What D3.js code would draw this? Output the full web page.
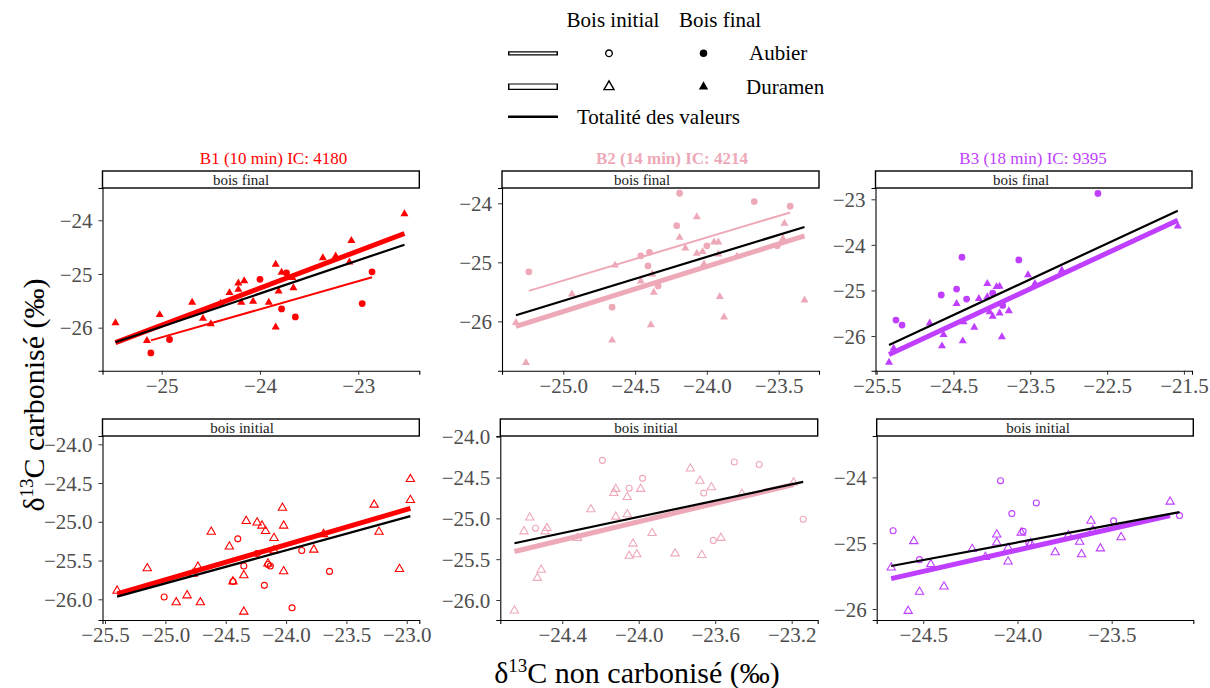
<!DOCTYPE html>
<html>
<head>
<meta charset="utf-8">
<script src="https://cdn.jsdelivr.net/npm/d3@7"></script>
<style>
  body { margin: 0; background: #fff; }
  svg { font-family: "Liberation Serif", "Times New Roman", serif; }
</style>
</head>
<body>
<svg width="1210" height="688"></svg>
<script>
// values: [delta13C non carbonise, delta13C carbonise]
const b1FinalAubier = [[-25.11,-26.47],[-24.92,-26.22],[-24.00,-25.10],[-23.78,-25.65],[-23.73,-24.98],[-23.64,-25.80],[-22.96,-25.55],[-22.86,-24.96]];
const b1FinalDuramen = [[-25.47,-25.91],[-25.15,-26.24],[-25.02,-25.76],[-24.69,-25.53],[-24.58,-25.83],[-24.50,-25.93],[-24.40,-25.55],[-24.31,-25.35],[-24.22,-25.17],[-24.22,-25.29],[-24.19,-25.53],[-24.16,-25.13],[-24.07,-25.51],[-23.91,-25.53],[-23.84,-24.82],[-23.84,-25.99],[-23.81,-25.32],[-23.78,-24.97],[-23.67,-25.07],[-23.66,-25.26],[-23.36,-24.70],[-23.23,-24.67],[-23.09,-24.78],[-23.07,-24.38],[-22.53,-23.88]];

const b2FinalAubier = [[-25.24,-25.16],[-24.66,-25.76],[-24.46,-24.89],[-24.41,-25.06],[-24.40,-24.83],[-24.34,-25.40],[-24.21,-24.38],[-24.19,-23.83],[-24.00,-24.72],[-23.67,-23.97],[-23.51,-24.72],[-23.42,-24.05]];
const b2FinalDuramen = [[-25.33,-26.02],[-25.26,-26.70],[-24.94,-25.54],[-24.66,-26.32],[-24.64,-25.05],[-24.46,-25.32],[-24.39,-26.06],[-24.38,-25.20],[-24.37,-25.51],[-24.19,-24.58],[-24.15,-24.76],[-24.07,-24.23],[-24.07,-24.85],[-24.03,-24.82],[-24.02,-25.03],[-23.95,-24.66],[-23.92,-24.66],[-23.92,-24.86],[-23.91,-25.58],[-23.88,-25.93],[-23.79,-24.90],[-23.46,-24.34],[-23.47,-24.60],[-23.32,-25.64]];

const b3FinalAubier = [[-25.25,-25.65],[-25.17,-25.76],[-24.66,-25.10],[-24.46,-24.97],[-24.39,-24.27],[-24.33,-25.19],[-23.99,-25.06],[-23.86,-25.33],[-23.65,-24.33],[-22.62,-22.87]];
const b3FinalDuramen = [[-25.34,-26.58],[-25.28,-26.27],[-24.81,-25.72],[-24.63,-25.97],[-24.65,-26.22],[-24.46,-25.29],[-24.38,-26.11],[-24.37,-25.69],[-24.23,-25.81],[-24.17,-25.18],[-24.06,-24.85],[-24.06,-25.14],[-24.03,-25.47],[-23.99,-25.57],[-23.94,-24.92],[-23.90,-24.91],[-23.90,-25.50],[-23.87,-26.02],[-23.78,-25.45],[-23.53,-24.66],[-23.44,-24.85],[-23.09,-24.56],[-21.58,-23.59]];

const b1InitialAubier = [[-25.01,-25.97],[-24.44,-25.77],[-24.40,-25.22],[-24.35,-25.57],[-24.24,-25.41],[-24.18,-25.82],[-24.15,-25.55],[-24.13,-25.57],[-23.95,-26.11],[-23.87,-25.37],[-23.64,-25.64]];
const b1InitialDuramen = [[-25.40,-25.89],[-25.15,-25.60],[-24.91,-26.04],[-24.82,-25.95],[-24.77,-25.67],[-24.73,-25.58],[-24.71,-26.04],[-24.62,-25.13],[-24.47,-25.32],[-24.44,-25.77],[-24.35,-25.69],[-24.35,-26.16],[-24.33,-24.99],[-24.24,-25.01],[-24.20,-25.05],[-24.17,-25.12],[-24.15,-25.54],[-24.10,-25.21],[-24.10,-25.37],[-24.03,-24.82],[-24.02,-25.05],[-24.02,-25.64],[-23.77,-25.36],[-23.69,-25.16],[-23.27,-24.78],[-23.23,-25.13],[-23.06,-25.61],[-22.97,-24.72],[-22.97,-24.45]];

const b2InitialAubier = [[-24.54,-25.12],[-24.19,-24.29],[-24.05,-24.63],[-23.98,-24.51],[-23.66,-24.69],[-23.61,-25.27],[-23.50,-24.31],[-23.37,-24.34],[-23.14,-25.01]];
const b2InitialDuramen = [[-24.65,-26.13],[-24.60,-25.16],[-24.57,-24.99],[-24.53,-25.73],[-24.51,-25.63],[-24.49,-25.16],[-24.48,-25.12],[-24.32,-25.24],[-24.25,-24.89],[-24.13,-24.69],[-24.12,-24.64],[-24.12,-24.98],[-24.06,-24.74],[-24.06,-24.95],[-24.05,-25.46],[-24.03,-25.31],[-24.01,-25.44],[-23.99,-24.64],[-23.93,-25.18],[-23.81,-25.43],[-23.73,-24.39],[-23.68,-24.54],[-23.67,-25.45],[-23.62,-24.62],[-23.57,-25.24],[-23.46,-24.70],[-23.19,-24.56]];

const b3InitialAubier = [[-24.66,-24.81],[-24.52,-25.25],[-24.09,-24.05],[-24.03,-24.55],[-23.97,-24.82],[-23.94,-24.99],[-23.90,-24.39],[-23.49,-24.66],[-23.14,-24.58]];
const b3InitialDuramen = [[-24.67,-25.37],[-24.58,-26.03],[-24.55,-24.97],[-24.52,-25.74],[-24.46,-25.32],[-24.39,-25.66],[-24.24,-25.09],[-24.17,-25.21],[-24.11,-24.99],[-24.11,-24.87],[-24.05,-25.07],[-24.05,-25.28],[-23.98,-24.84],[-23.93,-25.00],[-23.80,-25.14],[-23.73,-24.88],[-23.67,-24.98],[-23.66,-25.17],[-23.61,-24.66],[-23.60,-24.80],[-23.56,-25.08],[-23.45,-24.91],[-23.19,-24.37]];

const titles = ['B1 (10 min) IC: 4180', 'B2 (14 min) IC: 4214', 'B3 (18 min) IC: 9395'];
const colors = ['#ff0000', '#eea9b8', '#bf3eff'];

// tick values per panel
const xTicks = [[-25, -24, -23], [-25, -24.5, -24, -23.5], [-25.5, -24.5, -23.5, -22.5, -21.5],
                [-25.5, -25, -24.5, -24, -23.5, -23], [-24.4, -24, -23.6, -23.2], [-24.5, -24, -23.5]];
const yTicks = [[-26, -25, -24], [-26, -25, -24], [-26, -25, -24, -23],
                [-26, -25.5, -25, -24.5, -24], [-26, -25.5, -25, -24.5, -24], [-26, -25, -24]];

const svg = d3.select('svg');
const serif = '"Liberation Serif", "Times New Roman", serif';
const ink = '#1a1a1a';
const tickGrey = '#4d4d4d';

// panel layout (pixels) and visible data window
const panels = [
  { aub: b1FinalAubier, dur: b1FinalDuramen, col: 0, strip: 'bois final', box: [102.5, 419.3, 188, 370.7],
    xd: [-25.602, -22.379], yd: [-26.801, -23.399], xf: 'd', yf: 'd', fits: ['dur', 'aub', 'all'], stripX: 241, titleX: 273.5 },
  { aub: b2FinalAubier, dur: b2FinalDuramen, col: 1, strip: 'bois final', box: [502, 819, 188, 370.7],
    xd: [-25.427, -23.219], yd: [-26.835, -23.741], xf: '.1f', yf: 'd', fits: ['dur', 'aub', 'all'], stripX: 642, titleX: 672 },
  { aub: b3FinalAubier, dur: b3FinalDuramen, col: 2, strip: 'bois final', box: [875.5, 1192, 188, 370.7],
    xd: [-25.516, -21.395], yd: [-26.761, -22.752], xf: '.1f', yf: 'd', fits: ['dur', 'all'], stripX: 1021, titleX: 1033 },
  { aub: b1InitialAubier, dur: b1InitialDuramen, col: 0, strip: 'bois initial', box: [102.5, 419.3, 436, 620],
    xd: [-25.521, -22.896], yd: [-26.267, -23.893], xf: '.1f', yf: '.1f', fits: ['dur', 'all'], stripX: 242 },
  { aub: b2InitialAubier, dur: b2InitialDuramen, col: 1, strip: 'bois initial', box: [500.3, 817.7, 436, 620],
    xd: [-24.724, -23.064], yd: [-26.245, -23.991], xf: '.1f', yf: '.1f', fits: ['dur', 'all'], stripX: 646 },
  { aub: b3InitialAubier, dur: b3InitialDuramen, col: 2, strip: 'bois initial', box: [876.7, 1193.3, 436, 620],
    xd: [-24.747, -23.067], yd: [-26.167, -23.371], xf: '.1f', yf: 'd', fits: ['dur', 'all'], stripX: 1038 },
];

// least squares line over the x range of the points
const fitLine = pts => {
  const mx = d3.mean(pts, d => d[0]);
  const my = d3.mean(pts, d => d[1]);
  const b = d3.sum(pts, d => (d[0] - mx) * (d[1] - my)) / d3.sum(pts, d => (d[0] - mx) ** 2);
  const [lo, hi] = d3.extent(pts, d => d[0]);
  return [[lo, my + b * (lo - mx)], [hi, my + b * (hi - mx)]];
};

const circle = d3.symbol().type(d3.symbolCircle);
const triangle = d3.symbol().type(d3.symbolTriangle);

panels.forEach((p, i) => {
  const [x0, x1, y0, y1] = p.box;
  const color = colors[p.col];
  const filled = i < 3;
  const x = d3.scaleLinear().domain(p.xd).range([x0, x1]);
  const y = d3.scaleLinear().domain(p.yd).range([y1, y0]);
  const g = svg.append('g');

  // strip
  g.append('rect')
    .attr('x', x0).attr('y', y0 - 17).attr('width', x1 - x0).attr('height', 17)
    .attr('fill', '#fff').attr('stroke', '#000').attr('stroke-width', 1.4);
  g.append('text')
    .attr('x', p.stripX).attr('y', y0 - 3.5)
    .attr('text-anchor', 'middle').attr('font-size', 15).attr('fill', ink)
    .text(p.strip);

  // axes
  const xAxis = g.append('g').attr('transform', `translate(0,${y1})`)
    .call(d3.axisBottom(x).tickValues(xTicks[i]).tickFormat(d3.format(p.xf)).tickSizeOuter(0).tickSize(4).tickPadding(3));
  const yAxis = g.append('g').attr('transform', `translate(${x0},0)`)
    .call(d3.axisLeft(y).tickValues(yTicks[i]).tickFormat(d3.format(p.yf)).tickSizeOuter(0).tickSize(4).tickPadding(6));
  [xAxis, yAxis].forEach(a => {
    a.attr('font-family', null).attr('font-size', null);
    a.select('.domain').attr('stroke', '#000').attr('stroke-width', 1.1);
    a.selectAll('.tick line').attr('stroke', '#333');
    a.selectAll('.tick text').attr('fill', tickGrey)
      .style('font-family', serif).style('font-size', '21px');
  });
  yAxis.selectAll('.tick text').attr('dy', '0.34em');

  // points
  const pointsOf = (pts, sym, size) => g.selectAll(null).data(pts).enter().append('path')
    .attr('transform', d => `translate(${x(d[0])},${y(d[1])})`)
    .attr('d', sym.size(size)())
    .attr('fill', filled ? color : 'none')
    .attr('stroke', filled ? 'none' : color)
    .attr('stroke-width', 1.1);
  pointsOf(p.aub, circle, filled ? 36 : 28);
  pointsOf(p.dur, triangle, filled ? 28 : 30);

  // regression lines
  const line = d3.line().x(d => x(d[0])).y(d => y(d[1]));
  const fitStyles = {
    dur: { pts: p.dur, stroke: color, w: 5 },
    aub: { pts: p.aub, stroke: color, w: 2 },
    all: { pts: p.aub.concat(p.dur), stroke: '#000', w: 2.2 },
  };
  p.fits.forEach(k => {
    const f = fitStyles[k];
    g.append('path').attr('d', line(fitLine(f.pts)))
      .attr('fill', 'none').attr('stroke', f.stroke).attr('stroke-width', f.w);
  });

  if (p.titleX) {
    svg.append('text')
      .attr('x', p.titleX).attr('y', 164).attr('text-anchor', 'middle')
      .attr('font-size', 17).attr('fill', color)
      .attr('font-weight', p.col === 1 ? 'bold' : 'normal')
      .text(titles[p.col]);
  }
});

// axis titles
const yTitle = svg.append('text')
  .attr('transform', 'translate(44,395) rotate(-90)')
  .attr('text-anchor', 'middle').attr('font-size', 30).attr('fill', '#000');
yTitle.append('tspan').text('δ');
yTitle.append('tspan').attr('dy', -11).attr('font-size', 19).text('13');
yTitle.append('tspan').attr('dy', 11).text('C carbonisé (‰)');

const xTitle = svg.append('text')
  .attr('x', 637).attr('y', 683)
  .attr('text-anchor', 'middle').attr('font-size', 30).attr('fill', '#000');
xTitle.append('tspan').text('δ');
xTitle.append('tspan').attr('dy', -11).attr('font-size', 19).text('13');
xTitle.append('tspan').attr('dy', 11).text('C non carbonisé (‰)');

// legend
const leg = svg.append('g');
const legendCols = ['Bois initial', 'Bois final'];
const legendColX = [613, 720];
const legendRows = ['Aubier', 'Duramen'];
const legendRowY = [53.3, 86.7];
legendCols.forEach((t, j) => leg.append('text')
  .attr('x', legendColX[j]).attr('y', 27).attr('text-anchor', 'middle')
  .attr('font-size', 21).attr('fill', '#000').text(t));
legendRows.forEach((t, r) => {
  const yy = legendRowY[r];
  const w = r === 0 ? 4.2 : 6.6;
  leg.append('line').attr('x1', 508).attr('x2', 558).attr('y1', yy).attr('y2', yy)
    .attr('stroke', '#000').attr('stroke-width', w);
  leg.append('line').attr('x1', 509.5).attr('x2', 556.5).attr('y1', yy).attr('y2', yy)
    .attr('stroke', '#fff').attr('stroke-width', w - 2.4);
  const sym = r === 0 ? circle : triangle;
  leg.append('path').attr('transform', `translate(${legendColX[0] - 4},${yy})`)
    .attr('d', sym.size(r === 0 ? 34 : 44)()).attr('fill', 'none').attr('stroke', '#000').attr('stroke-width', 1.4);
  leg.append('path').attr('transform', `translate(${legendColX[1] - 16.5},${yy})`)
    .attr('d', sym.size(r === 0 ? 44 : 38)()).attr('fill', '#000');
  leg.append('text').attr('x', r === 0 ? 749 : 746).attr('y', yy + 7)
    .attr('font-size', 21).attr('fill', '#000').text(t);
});
leg.append('line').attr('x1', 508).attr('x2', 558).attr('y1', 116.7).attr('y2', 116.7)
  .attr('stroke', '#000').attr('stroke-width', 2.4);
leg.append('text').attr('x', 577).attr('y', 123.5)
  .attr('font-size', 21).attr('fill', '#000').text('Totalité des valeurs');
</script>
</body>
</html>
